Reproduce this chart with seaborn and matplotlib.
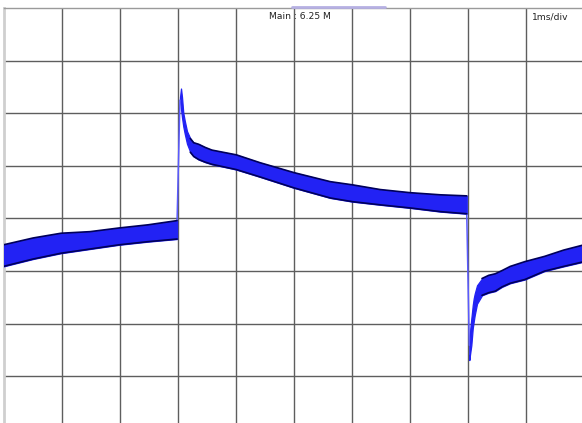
import matplotlib
matplotlib.use("Agg")
import matplotlib.pyplot as plt
import seaborn as sns

# time in ms, trace envelope in vertical divisions (0 = bottom grid line)
t_low = [0.0, 0.51, 0.99, 1.49, 1.99, 2.49, 2.99]
top_low = [3.50, 3.63, 3.72, 3.75, 3.82, 3.88, 3.96]
bot_low = [3.09, 3.23, 3.34, 3.42, 3.50, 3.56, 3.61]

t_high = [3.040, 3.058, 3.075, 3.097, 3.122, 3.161, 3.218, 3.276, 3.363,
          3.476, 3.59, 4.01, 4.42, 5.01, 5.63, 6.01, 6.49, 7.01, 7.53, 7.98]
top_high = [6.30, 6.47, 6.31, 6.01, 5.86, 5.66, 5.52, 5.44, 5.41,
            5.35, 5.30, 5.21, 5.06, 4.87, 4.70, 4.64, 4.55, 4.49, 4.45, 4.43]
bot_high = [6.25, 6.08, 5.92, 5.75, 5.61, 5.42, 5.26, 5.18, 5.12,
            5.07, 5.03, 4.93, 4.79, 4.58, 4.39, 4.32, 4.26, 4.20, 4.13, 4.09]

t_rec = [8.024, 8.041, 8.059, 8.071, 8.083, 8.100, 8.117, 8.157, 8.243,
         8.358, 8.472, 8.587, 8.73, 8.98, 9.32, 9.65, 10.0]
top_rec = [1.59, 1.91, 2.10, 2.22, 2.35, 2.48, 2.57, 2.73, 2.86,
           2.92, 2.95, 3.01, 3.09, 3.18, 3.28, 3.40, 3.50]
bot_rec = [1.31, 1.45, 1.59, 1.75, 1.91, 2.04, 2.16, 2.38, 2.54,
           2.59, 2.62, 2.70, 2.77, 2.84, 3.00, 3.09, 3.18]

# the spikes themselves show no dark edge on the scope
spike_end_high = 3.20
spike_end_rec = 8.24

marker_span = [4.97, 6.58]
label_main = "Main : 6.25 M"
label_timebase = "1ms/div"

FILL = "#2222f4"
EDGE = "#00005a"

sns.set_style("white")
plt.rcParams["font.family"] = ["Liberation Sans Narrow", "DejaVu Sans"]

fig = plt.figure(figsize=(5.82, 4.23), dpi=100)
ax = fig.add_axes([3.5 / 582, -6 / 423, 580.5 / 582, 421 / 423])

# graticule
ax.set_xlim(0, 10)
ax.set_ylim(0, 8)
ax.set_xticks(range(1, 10))
ax.set_yticks(range(1, 8))
ax.tick_params(length=0, labelbottom=False, labelleft=False)
ax.grid(True, color="#5e5e5e", lw=1.0)
ax.set_axisbelow(True)
ax.spines["left"].set_color("#cfcfcf")
ax.spines["left"].set_linewidth(2)
ax.spines["top"].set_color("#9a9a9a")
ax.spines["top"].set_linewidth(1)
ax.spines["right"].set_visible(False)
ax.spines["bottom"].set_visible(False)

# trace bands
for t, top, bot, t_edge in [(t_low, top_low, bot_low, 0.0),
                            (t_high, top_high, bot_high, spike_end_high),
                            (t_rec, top_rec, bot_rec, spike_end_rec)]:
    ax.fill_between(t, bot, top, color=FILL, lw=0.9, edgecolor=FILL, zorder=3)
    keep = [i for i, v in enumerate(t) if v >= t_edge]
    te = [t[i] for i in keep]
    sns.lineplot(x=te, y=[top[i] for i in keep], ax=ax, color=EDGE, lw=1.2,
                 sort=False, estimator=None, zorder=4)
    sns.lineplot(x=te, y=[bot[i] for i in keep], ax=ax, color=EDGE, lw=1.2,
                 sort=False, estimator=None, zorder=4)

# fast edges at the transitions
ax.plot([t_low[-1], t_high[0]], [top_low[-1], bot_high[0]], color="#5a5aff", lw=1.1, zorder=3)
ax.plot([t_high[-1], t_rec[0]], [bot_high[-1], top_rec[0]], color="#5a5aff", lw=1.1, zorder=3)

# top marker and labels
ax.plot(marker_span, [8.02, 8.02], color="#b6b0e2", lw=2, clip_on=False, zorder=5)
ax.text(4.575, 7.83, label_main, fontsize=6.6, color="#222222", va="center", ha="left")
ax.text(9.11, 7.83, label_timebase, fontsize=6.6, color="#222222", va="center", ha="left")

fig.savefig("out.png", dpi=100)
